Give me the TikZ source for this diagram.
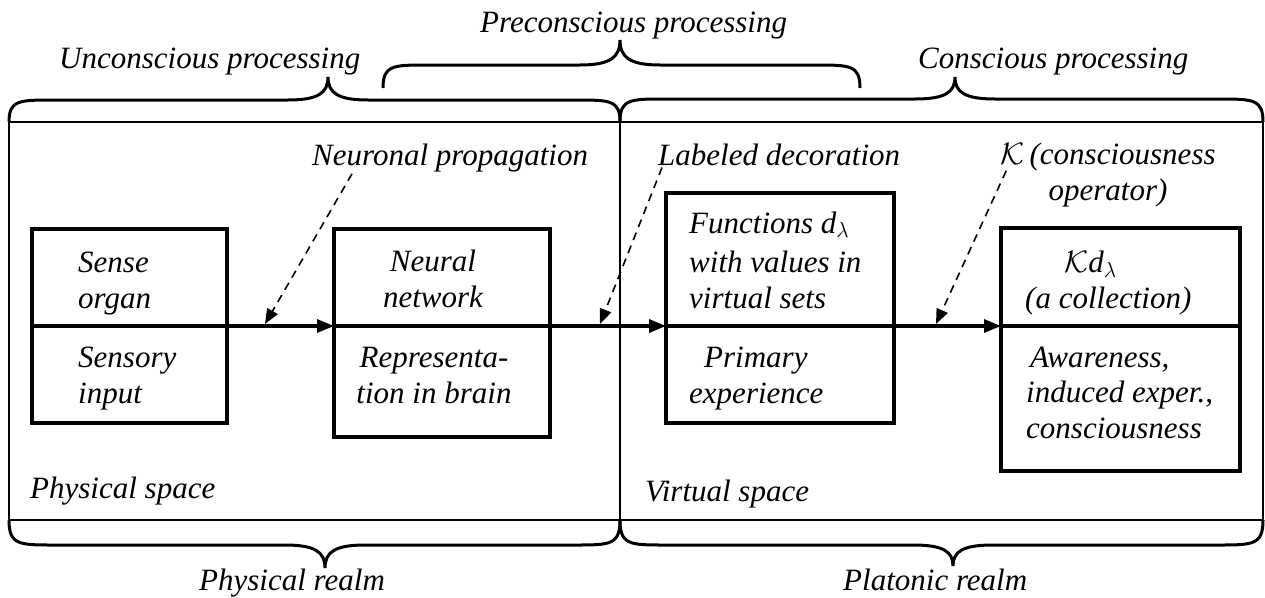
\RequirePackage{fix-cm}
\documentclass[tikz,border=0pt]{standalone}
\usepackage{fontspec}
\setmainfont{Liberation Serif}
\usetikzlibrary{arrows.meta}
\newcommand\mybrace[6]{% x1 x2 xm yb yh yt
  \draw[brace] (#1,#4) .. controls (#1,#5) and ({#1+10},#5) .. ({#1+45},#5)
    -- ({#3-40},#5) .. controls ({#3-10},#5) and (#3,{#5+0.3*(#6-#5)}) .. (#3,#6)
    .. controls (#3,{#5+0.3*(#6-#5)}) and ({#3+10},#5) .. ({#3+40},#5)
    -- ({#2-45},#5) .. controls ({#2-10},#5) and (#2,#5) .. (#2,#4);}
\begin{document}
\begin{tikzpicture}[x=1pt,y=-1pt,
  lbl/.style={font=\fontsize{31}{35.5}\selectfont\itshape, inner sep=0pt, anchor=base west},
  part/.style={draw, line width=3.5pt, inner sep=0pt, outer sep=0pt, rectangle},
  realm/.style={draw, line width=2.8pt, inner sep=0pt, outer sep=0pt, rectangle},
  brace/.style={line width=3pt},
  flow/.style={line width=3.2pt, -{Triangle[length=17pt,width=13pt]}},
  hint/.style={line width=1.6pt, dash pattern=on 8pt off 6pt, -{Triangle[length=15pt,width=12pt]}}]
\useasboundingbox (0,0) rectangle (1265,597);
% realms
\node[realm, minimum width=611pt, minimum height=398pt] (physbox) at (314.5,321) {};
\node[realm, minimum width=643pt, minimum height=398pt] (virtbox) at (941.5,321) {};
% braces
\mybrace{9}{620}{328}{122}{100}{77}
\mybrace{620}{1263}{955}{122}{99}{77}
\mybrace{383}{860}{620}{88}{65}{40}
\mybrace{9}{620}{325}{520}{545}{568}
\mybrace{620}{1263}{953}{520}{545}{566}
% brace labels
\node[lbl] (unc) at (59,68) {Unconscious processing};
\node[lbl] (pre) at (480,32) {Preconscious processing};
\node[lbl] (con) at (918,68) {Conscious processing};
\node[lbl] (physre) at (199,590) {Physical realm};
\node[lbl] (plat) at (843,590) {Platonic realm};
\node[lbl] (physsp) at (30,498) {Physical space};
\node[lbl] (virtsp) at (645,501) {Virtual space};
% boxes
\node[part, minimum width=195pt, minimum height=97pt] (sU) at (129.5,277.5) {};
\node[part, minimum width=195pt, minimum height=97pt] (sL) at (129.5,374.5) {};
\node[part, minimum width=216pt, minimum height=97pt] (nU) at (442,277.5) {};
\node[part, minimum width=216pt, minimum height=111pt] (nL) at (442,381.5) {};
\node[part, minimum width=228pt, minimum height=133pt] (fU) at (780,259.5) {};
\node[part, minimum width=228pt, minimum height=97pt] (fL) at (780,374.5) {};
\node[part, minimum width=239pt, minimum height=98pt] (kU) at (1120.5,277) {};
\node[part, minimum width=239pt, minimum height=145pt] (kL) at (1120.5,398.5) {};
% box texts (anchor base = last line)
\node[lbl, align=left] (sUt) at (78,308) {Sense\\organ};
\node[lbl, align=left] (sLt) at (78,403) {Sensory\\input};
\node[lbl, align=center, anchor=base] (nUt) at (433,307) {Neural\\network};
\node[lbl, align=center, anchor=base] (nLt) at (434,403) {Representa-\\tion in brain};
\node[lbl, align=left] (fUt) at (689,308) {Functions \textit{d}$_\lambda$\\[4pt]with values in\\virtual sets};
\node[lbl, align=left] (fLt) at (689,403) {\hspace*{15pt}Primary\\experience};
\node[lbl, align=left] (kUt) at (1025,308) {\hspace*{39pt}$\mathcal{K}$\textit{d}$_\lambda$\\(a collection)};
\node[lbl, align=left] (kLt) at (1026,438) {\hspace*{4pt}Awareness,\\induced exper.,\\consciousness};
% annotations
\node[lbl] (neur) at (312,165) {Neuronal propagation};
\node[lbl] (lab) at (658,165) {Labeled decoration};
\node[lbl, align=center, anchor=base] (kop) at (1108,200) {$\mathcal{K}$\,(consciousness\\operator)};
% flow arrows
\draw[flow] (sU.south east) -- (nU.south west);
\draw[flow] (nU.south east) -- (fU.south west);
\draw[flow] (fU.south east) -- (kU.south west);
% dashed pointers
\coordinate (t1) at (265,324);
\coordinate (t2) at (600,324);
\coordinate (t3) at (936,324);
\draw[hint] ([xshift=40pt,yshift=-2pt]neur.south west) -- (t1);
\draw[hint] ([xshift=4pt,yshift=-2pt]lab.south west) -- (t2);
\draw[hint] ([xshift=6pt,yshift=-28pt]kop.north west) -- (t3);
\end{tikzpicture}
\end{document}
